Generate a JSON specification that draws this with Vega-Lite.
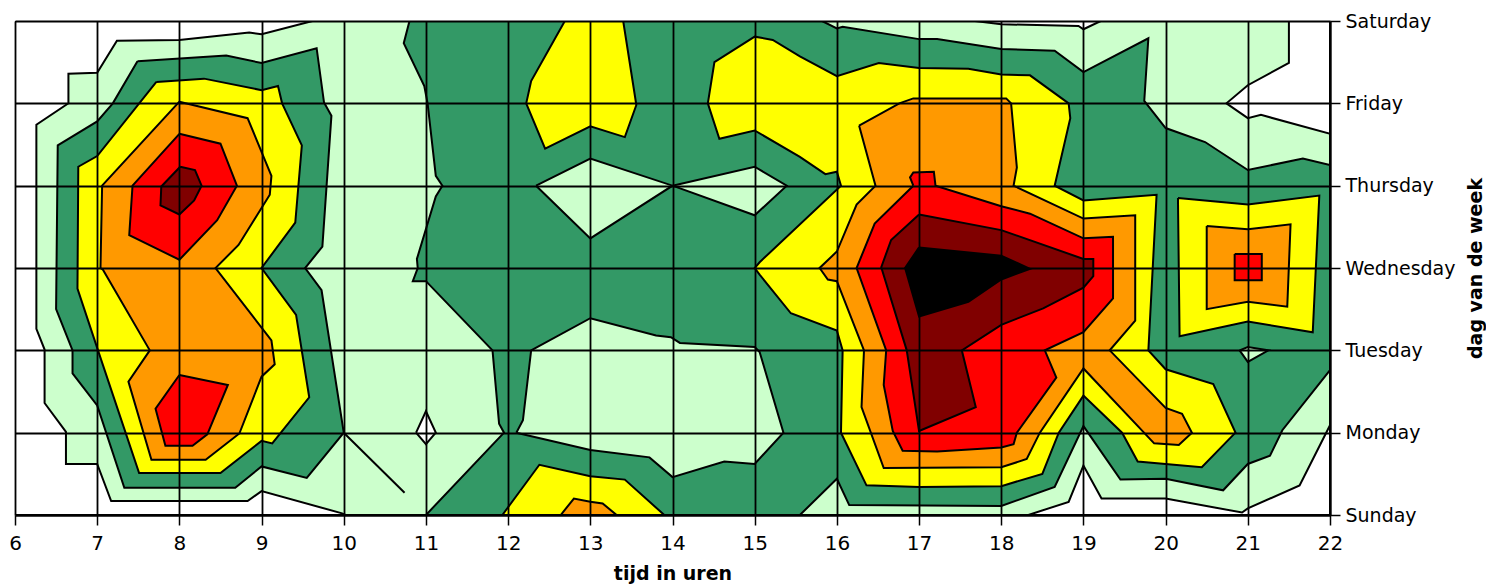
{
"$schema":"https://vega.github.io/schema/vega-lite/v6.json",
"width":1315,"height":494,
"autosize":{"type":"none"},
"padding":{"left":15,"top":21,"right":156,"bottom":70},
"background":"white",
"config":{"view":{"stroke":null}},
"data":{"values":[
{"poly":"B","stage":1,"k":0,"hour":6,"day":0},{"poly":"B","stage":1,"k":1,"hour":22,"day":0},{"poly":"B","stage":1,"k":2,"hour":22,"day":6},{"poly":"B","stage":1,"k":3,"hour":6,"day":6},{"poly":"B","stage":1,"k":4,"hour":6,"day":0},
{"poly":"W1","stage":2,"k":0,"hour":6,"day":6},{"poly":"W1","stage":2,"k":1,"hour":9.62,"day":6},{"poly":"W1","stage":2,"k":2,"hour":9.0,"day":5.84},{"poly":"W1","stage":2,"k":3,"hour":8.85,"day":5.86},{"poly":"W1","stage":2,"k":4,"hour":8.0,"day":5.77},{"poly":"W1","stage":2,"k":5,"hour":7.24,"day":5.76},{"poly":"W1","stage":2,"k":6,"hour":7.0,"day":5.37},{"poly":"W1","stage":2,"k":7,"hour":6.65,"day":5.36},{"poly":"W1","stage":2,"k":8,"hour":6.65,"day":5.0},{"poly":"W1","stage":2,"k":9,"hour":6.26,"day":4.74},{"poly":"W1","stage":2,"k":10,"hour":6.26,"day":2.26},{"poly":"W1","stage":2,"k":11,"hour":6.36,"day":2.01},{"poly":"W1","stage":2,"k":12,"hour":6.36,"day":1.36},{"poly":"W1","stage":2,"k":13,"hour":6.62,"day":1.01},{"poly":"W1","stage":2,"k":14,"hour":6.62,"day":0.62},{"poly":"W1","stage":2,"k":15,"hour":7.0,"day":0.62},{"poly":"W1","stage":2,"k":16,"hour":7.17,"day":0.17},{"poly":"W1","stage":2,"k":17,"hour":8.83,"day":0.17},{"poly":"W1","stage":2,"k":18,"hour":9.0,"day":0.29},{"poly":"W1","stage":2,"k":19,"hour":9.98,"day":0.02},{"poly":"W1","stage":2,"k":20,"hour":10.02,"day":0},{"poly":"W1","stage":2,"k":21,"hour":6,"day":0},{"poly":"W1","stage":2,"k":22,"hour":6,"day":6},
{"poly":"W2","stage":2,"k":0,"hour":18.33,"day":0},{"poly":"W2","stage":2,"k":1,"hour":18.82,"day":0.16},{"poly":"W2","stage":2,"k":2,"hour":19.0,"day":0.6},{"poly":"W2","stage":2,"k":3,"hour":19.22,"day":0.2},{"poly":"W2","stage":2,"k":4,"hour":20.0,"day":0.2},{"poly":"W2","stage":2,"k":5,"hour":20.93,"day":0.03},{"poly":"W2","stage":2,"k":6,"hour":21.0,"day":0.08},{"poly":"W2","stage":2,"k":7,"hour":21.63,"day":0.36},{"poly":"W2","stage":2,"k":8,"hour":22,"day":1.09},{"poly":"W2","stage":2,"k":9,"hour":22,"day":0},{"poly":"W2","stage":2,"k":10,"hour":18.33,"day":0},
{"poly":"W3","stage":2,"k":0,"hour":21.5,"day":6},{"poly":"W3","stage":2,"k":1,"hour":21.5,"day":5.49},{"poly":"W3","stage":2,"k":2,"hour":21.0,"day":5.22},{"poly":"W3","stage":2,"k":3,"hour":20.74,"day":5.0},{"poly":"W3","stage":2,"k":4,"hour":21.0,"day":4.82},{"poly":"W3","stage":2,"k":5,"hour":21.16,"day":4.86},{"poly":"W3","stage":2,"k":6,"hour":22,"day":4.63},{"poly":"W3","stage":2,"k":7,"hour":22,"day":6},{"poly":"W3","stage":2,"k":8,"hour":21.5,"day":6},
{"poly":"W4","stage":2,"k":0,"hour":17.68,"day":6},{"poly":"W4","stage":2,"k":1,"hour":18.0,"day":5.96},{"poly":"W4","stage":2,"k":2,"hour":18.94,"day":5.94},{"poly":"W4","stage":2,"k":3,"hour":19.0,"day":5.9},{"poly":"W4","stage":2,"k":4,"hour":19.21,"day":6},{"poly":"W4","stage":2,"k":5,"hour":17.68,"day":6},
{"poly":"W5","stage":2,"k":0,"hour":11.73,"day":6},{"poly":"W5","stage":2,"k":1,"hour":12.0,"day":5.95},{"poly":"W5","stage":2,"k":2,"hour":12.02,"day":6},{"poly":"W5","stage":2,"k":3,"hour":11.73,"day":6},
{"poly":"W6","stage":2,"k":0,"hour":10.88,"day":1},{"poly":"W6","stage":2,"k":1,"hour":11,"day":1.26},{"poly":"W6","stage":2,"k":2,"hour":11.12,"day":1},{"poly":"W6","stage":2,"k":3,"hour":11,"day":0.86},{"poly":"W6","stage":2,"k":4,"hour":10.88,"day":1},
{"poly":"W7","stage":2,"k":0,"hour":10,"day":1},{"poly":"W7","stage":2,"k":1,"hour":10.74,"day":0.27},{"poly":"W7","stage":2,"k":2,"hour":10,"day":1},
{"poly":"G1","stage":3,"k":0,"hour":7.49,"day":5.51},{"poly":"G1","stage":3,"k":1,"hour":8.57,"day":5.58},{"poly":"G1","stage":3,"k":2,"hour":9.0,"day":5.49},{"poly":"G1","stage":3,"k":3,"hour":9.67,"day":5.67},{"poly":"G1","stage":3,"k":4,"hour":9.76,"day":5.01},{"poly":"G1","stage":3,"k":5,"hour":9.85,"day":4.85},{"poly":"G1","stage":3,"k":6,"hour":9.74,"day":3.26},{"poly":"G1","stage":3,"k":7,"hour":9.53,"day":3.0},{"poly":"G1","stage":3,"k":8,"hour":9.73,"day":2.73},{"poly":"G1","stage":3,"k":9,"hour":10.0,"day":1.0},{"poly":"G1","stage":3,"k":10,"hour":9.55,"day":0.45},{"poly":"G1","stage":3,"k":11,"hour":9.0,"day":0.59},{"poly":"G1","stage":3,"k":12,"hour":8.68,"day":0.33},{"poly":"G1","stage":3,"k":13,"hour":7.33,"day":0.33},{"poly":"G1","stage":3,"k":14,"hour":7.0,"day":1.33},{"poly":"G1","stage":3,"k":15,"hour":6.7,"day":1.72},{"poly":"G1","stage":3,"k":16,"hour":6.7,"day":2.0},{"poly":"G1","stage":3,"k":17,"hour":6.5,"day":2.5},{"poly":"G1","stage":3,"k":18,"hour":6.52,"day":4.49},{"poly":"G1","stage":3,"k":19,"hour":7.0,"day":4.78},{"poly":"G1","stage":3,"k":20,"hour":7.19,"day":5.0},{"poly":"G1","stage":3,"k":21,"hour":7.49,"day":5.51},
{"poly":"G2","stage":3,"k":0,"hour":10.8,"day":6},{"poly":"G2","stage":3,"k":1,"hour":15.82,"day":6},{"poly":"G2","stage":3,"k":2,"hour":16.0,"day":5.91},{"poly":"G2","stage":3,"k":3,"hour":16.07,"day":5.93},{"poly":"G2","stage":3,"k":4,"hour":17.0,"day":5.78},{"poly":"G2","stage":3,"k":5,"hour":17.22,"day":5.78},{"poly":"G2","stage":3,"k":6,"hour":18.0,"day":5.66},{"poly":"G2","stage":3,"k":7,"hour":18.65,"day":5.64},{"poly":"G2","stage":3,"k":8,"hour":19.0,"day":5.38},{"poly":"G2","stage":3,"k":9,"hour":19.79,"day":5.79},{"poly":"G2","stage":3,"k":10,"hour":19.74,"day":5.03},{"poly":"G2","stage":3,"k":11,"hour":20.0,"day":4.7},{"poly":"G2","stage":3,"k":12,"hour":20.48,"day":4.53},{"poly":"G2","stage":3,"k":13,"hour":21.0,"day":4.19},{"poly":"G2","stage":3,"k":14,"hour":21.67,"day":4.33},{"poly":"G2","stage":3,"k":15,"hour":22,"day":4.25},{"poly":"G2","stage":3,"k":16,"hour":22,"day":1.76},{"poly":"G2","stage":3,"k":17,"hour":21.42,"day":1.03},{"poly":"G2","stage":3,"k":18,"hour":21.27,"day":0.72},{"poly":"G2","stage":3,"k":19,"hour":21.0,"day":0.62},{"poly":"G2","stage":3,"k":20,"hour":20.7,"day":0.3},{"poly":"G2","stage":3,"k":21,"hour":20.0,"day":0.44},{"poly":"G2","stage":3,"k":22,"hour":19.45,"day":0.43},{"poly":"G2","stage":3,"k":23,"hour":19.0,"day":1.08},{"poly":"G2","stage":3,"k":24,"hour":18.65,"day":0.34},{"poly":"G2","stage":3,"k":25,"hour":18.0,"day":0.11},{"poly":"G2","stage":3,"k":26,"hour":16.15,"day":0.12},{"poly":"G2","stage":3,"k":27,"hour":16.0,"day":0.44},{"poly":"G2","stage":3,"k":28,"hour":15.55,"day":0},{"poly":"G2","stage":3,"k":29,"hour":11.0,"day":0},{"poly":"G2","stage":3,"k":30,"hour":11.95,"day":1.0},{"poly":"G2","stage":3,"k":31,"hour":11.89,"day":1.11},{"poly":"G2","stage":3,"k":32,"hour":11.81,"day":2.0},{"poly":"G2","stage":3,"k":33,"hour":11.0,"day":2.84},{"poly":"G2","stage":3,"k":34,"hour":10.84,"day":2.84},{"poly":"G2","stage":3,"k":35,"hour":10.9,"day":3.0},{"poly":"G2","stage":3,"k":36,"hour":10.89,"day":3.11},{"poly":"G2","stage":3,"k":37,"hour":11.12,"day":3.87},{"poly":"G2","stage":3,"k":38,"hour":11.2,"day":4.0},{"poly":"G2","stage":3,"k":39,"hour":11.12,"day":4.12},{"poly":"G2","stage":3,"k":40,"hour":11.02,"day":5.0},{"poly":"G2","stage":3,"k":41,"hour":10.98,"day":5.21},{"poly":"G2","stage":3,"k":42,"hour":10.73,"day":5.73},{"poly":"G2","stage":3,"k":43,"hour":10.8,"day":6},
{"poly":"H1","stage":4,"k":0,"hour":12.1,"day":1},{"poly":"H1","stage":4,"k":1,"hour":12.18,"day":1.15},{"poly":"H1","stage":4,"k":2,"hour":12.28,"day":2},{"poly":"H1","stage":4,"k":3,"hour":13,"day":2.39},{"poly":"H1","stage":4,"k":4,"hour":13.8,"day":2.18},{"poly":"H1","stage":4,"k":5,"hour":13.98,"day":2.16},{"poly":"H1","stage":4,"k":6,"hour":14.09,"day":2.09},{"poly":"H1","stage":4,"k":7,"hour":15,"day":2.04},{"poly":"H1","stage":4,"k":8,"hour":15.06,"day":1.98},{"poly":"H1","stage":4,"k":9,"hour":15.35,"day":1},{"poly":"H1","stage":4,"k":10,"hour":15,"day":0.62},{"poly":"H1","stage":4,"k":11,"hour":14.63,"day":0.65},{"poly":"H1","stage":4,"k":12,"hour":14,"day":0.46},{"poly":"H1","stage":4,"k":13,"hour":13.72,"day":0.7},{"poly":"H1","stage":4,"k":14,"hour":13,"day":0.79},{"poly":"H1","stage":4,"k":15,"hour":12.1,"day":1},
{"poly":"H2","stage":4,"k":0,"hour":12.34,"day":4},{"poly":"H2","stage":4,"k":1,"hour":13,"day":4.33},{"poly":"H2","stage":4,"k":2,"hour":14,"day":4},{"poly":"H2","stage":4,"k":3,"hour":13,"day":3.36},{"poly":"H2","stage":4,"k":4,"hour":12.34,"day":4},
{"poly":"H3","stage":4,"k":0,"hour":14,"day":4},{"poly":"H3","stage":4,"k":1,"hour":15,"day":4.23},{"poly":"H3","stage":4,"k":2,"hour":15.39,"day":4},{"poly":"H3","stage":4,"k":3,"hour":15,"day":3.64},{"poly":"H3","stage":4,"k":4,"hour":14,"day":4},
{"poly":"H4","stage":4,"k":0,"hour":20.9,"day":2},{"poly":"H4","stage":4,"k":1,"hour":21,"day":2.04},{"poly":"H4","stage":4,"k":2,"hour":21.25,"day":2},{"poly":"H4","stage":4,"k":3,"hour":21,"day":1.86},{"poly":"H4","stage":4,"k":4,"hour":20.9,"day":2},
{"poly":"Y1","stage":5,"k":0,"hour":7.72,"day":5.26},{"poly":"Y1","stage":5,"k":1,"hour":8.3,"day":5.3},{"poly":"Y1","stage":5,"k":2,"hour":9.0,"day":5.16},{"poly":"Y1","stage":5,"k":3,"hour":9.2,"day":5.21},{"poly":"Y1","stage":5,"k":4,"hour":9.25,"day":5.0},{"poly":"Y1","stage":5,"k":5,"hour":9.49,"day":4.49},{"poly":"Y1","stage":5,"k":6,"hour":9.41,"day":3.55},{"poly":"Y1","stage":5,"k":7,"hour":9.0,"day":3.0},{"poly":"Y1","stage":5,"k":8,"hour":9.42,"day":2.43},{"poly":"Y1","stage":5,"k":9,"hour":9.58,"day":1.43},{"poly":"Y1","stage":5,"k":10,"hour":9.13,"day":0.87},{"poly":"Y1","stage":5,"k":11,"hour":9.0,"day":0.9},{"poly":"Y1","stage":5,"k":12,"hour":8.5,"day":0.51},{"poly":"Y1","stage":5,"k":13,"hour":7.51,"day":0.51},{"poly":"Y1","stage":5,"k":14,"hour":7.01,"day":2.0},{"poly":"Y1","stage":5,"k":15,"hour":6.76,"day":2.75},{"poly":"Y1","stage":5,"k":16,"hour":6.77,"day":4.23},{"poly":"Y1","stage":5,"k":17,"hour":7.0,"day":4.36},{"poly":"Y1","stage":5,"k":18,"hour":7.72,"day":5.26},
{"poly":"Y2","stage":5,"k":0,"hour":12.69,"day":6},{"poly":"Y2","stage":5,"k":1,"hour":12.28,"day":5.27},{"poly":"Y2","stage":5,"k":2,"hour":12.22,"day":5.0},{"poly":"Y2","stage":5,"k":3,"hour":12.45,"day":4.45},{"poly":"Y2","stage":5,"k":4,"hour":13.0,"day":4.72},{"poly":"Y2","stage":5,"k":5,"hour":13.42,"day":4.59},{"poly":"Y2","stage":5,"k":6,"hour":13.56,"day":4.98},{"poly":"Y2","stage":5,"k":7,"hour":13.4,"day":6},{"poly":"Y2","stage":5,"k":8,"hour":12.69,"day":6},
{"poly":"Y3","stage":5,"k":0,"hour":11.93,"day":0},{"poly":"Y3","stage":5,"k":1,"hour":12.38,"day":0.61},{"poly":"Y3","stage":5,"k":2,"hour":13.0,"day":0.47},{"poly":"Y3","stage":5,"k":3,"hour":13.42,"day":0.43},{"poly":"Y3","stage":5,"k":4,"hour":13.9,"day":0},{"poly":"Y3","stage":5,"k":5,"hour":11.93,"day":0},
{"poly":"Y4","stage":5,"k":0,"hour":14.43,"day":5.0},{"poly":"Y4","stage":5,"k":1,"hour":14.51,"day":5.5},{"poly":"Y4","stage":5,"k":2,"hour":15.0,"day":5.81},{"poly":"Y4","stage":5,"k":3,"hour":15.22,"day":5.77},{"poly":"Y4","stage":5,"k":4,"hour":15.55,"day":5.57},{"poly":"Y4","stage":5,"k":5,"hour":16.0,"day":5.33},{"poly":"Y4","stage":5,"k":6,"hour":16.51,"day":5.49},{"poly":"Y4","stage":5,"k":7,"hour":17.0,"day":5.43},{"poly":"Y4","stage":5,"k":8,"hour":17.6,"day":5.42},{"poly":"Y4","stage":5,"k":9,"hour":18.0,"day":5.35},{"poly":"Y4","stage":5,"k":10,"hour":18.35,"day":5.34},{"poly":"Y4","stage":5,"k":11,"hour":18.82,"day":5.0},{"poly":"Y4","stage":5,"k":12,"hour":18.84,"day":4.82},{"poly":"Y4","stage":5,"k":13,"hour":18.65,"day":4.0},{"poly":"Y4","stage":5,"k":14,"hour":19.0,"day":3.82},{"poly":"Y4","stage":5,"k":15,"hour":19.89,"day":3.89},{"poly":"Y4","stage":5,"k":16,"hour":19.79,"day":2.0},{"poly":"Y4","stage":5,"k":17,"hour":20.0,"day":1.77},{"poly":"Y4","stage":5,"k":18,"hour":20.58,"day":1.59},{"poly":"Y4","stage":5,"k":19,"hour":20.85,"day":1.0},{"poly":"Y4","stage":5,"k":20,"hour":20.44,"day":0.58},{"poly":"Y4","stage":5,"k":21,"hour":19.66,"day":0.65},{"poly":"Y4","stage":5,"k":22,"hour":19.47,"day":1.0},{"poly":"Y4","stage":5,"k":23,"hour":19.0,"day":1.45},{"poly":"Y4","stage":5,"k":24,"hour":18.7,"day":1.0},{"poly":"Y4","stage":5,"k":25,"hour":18.5,"day":0.5},{"poly":"Y4","stage":5,"k":26,"hour":18.0,"day":0.35},{"poly":"Y4","stage":5,"k":27,"hour":17.0,"day":0.34},{"poly":"Y4","stage":5,"k":28,"hour":16.36,"day":0.36},{"poly":"Y4","stage":5,"k":29,"hour":16.05,"day":1.0},{"poly":"Y4","stage":5,"k":30,"hour":16.07,"day":2.0},{"poly":"Y4","stage":5,"k":31,"hour":16.0,"day":2.24},{"poly":"Y4","stage":5,"k":32,"hour":15.44,"day":2.45},{"poly":"Y4","stage":5,"k":33,"hour":15.06,"day":2.92},{"poly":"Y4","stage":5,"k":34,"hour":15.0,"day":3.0},{"poly":"Y4","stage":5,"k":35,"hour":15.06,"day":3.07},{"poly":"Y4","stage":5,"k":36,"hour":16.05,"day":4.0},{"poly":"Y4","stage":5,"k":37,"hour":16.0,"day":4.17},{"poly":"Y4","stage":5,"k":38,"hour":15.86,"day":4.14},{"poly":"Y4","stage":5,"k":39,"hour":15.55,"day":4.35},{"poly":"Y4","stage":5,"k":40,"hour":15.0,"day":4.67},{"poly":"Y4","stage":5,"k":41,"hour":14.57,"day":4.57},{"poly":"Y4","stage":5,"k":42,"hour":14.43,"day":5.0},
{"poly":"Y5","stage":5,"k":0,"hour":20.15,"day":3.85},{"poly":"Y5","stage":5,"k":1,"hour":21,"day":3.77},{"poly":"Y5","stage":5,"k":2,"hour":21.87,"day":3.88},{"poly":"Y5","stage":5,"k":3,"hour":21.79,"day":2.22},{"poly":"Y5","stage":5,"k":4,"hour":21,"day":2.35},{"poly":"Y5","stage":5,"k":5,"hour":20.17,"day":2.17},{"poly":"Y5","stage":5,"k":6,"hour":20.15,"day":3.85},
{"poly":"O1","stage":6,"k":0,"hour":8.0,"day":5.02},{"poly":"O1","stage":6,"k":1,"hour":8.83,"day":4.82},{"poly":"O1","stage":6,"k":2,"hour":9.12,"day":4.12},{"poly":"O1","stage":6,"k":3,"hour":9.1,"day":3.89},{"poly":"O1","stage":6,"k":4,"hour":8.72,"day":3.28},{"poly":"O1","stage":6,"k":5,"hour":8.44,"day":3.0},{"poly":"O1","stage":6,"k":6,"hour":9.12,"day":2.12},{"poly":"O1","stage":6,"k":7,"hour":9.16,"day":1.83},{"poly":"O1","stage":6,"k":8,"hour":9.0,"day":1.68},{"poly":"O1","stage":6,"k":9,"hour":8.73,"day":0.99},{"poly":"O1","stage":6,"k":10,"hour":8.32,"day":0.67},{"poly":"O1","stage":6,"k":11,"hour":7.66,"day":0.67},{"poly":"O1","stage":6,"k":12,"hour":7.38,"day":1.62},{"poly":"O1","stage":6,"k":13,"hour":7.64,"day":2.0},{"poly":"O1","stage":6,"k":14,"hour":7.07,"day":2.98},{"poly":"O1","stage":6,"k":15,"hour":7.04,"day":3.0},{"poly":"O1","stage":6,"k":16,"hour":7.06,"day":4.0},{"poly":"O1","stage":6,"k":17,"hour":8.0,"day":5.02},
{"poly":"O2","stage":6,"k":0,"hour":12.64,"day":0},{"poly":"O2","stage":6,"k":1,"hour":12.8,"day":0.2},{"poly":"O2","stage":6,"k":2,"hour":13.0,"day":0.16},{"poly":"O2","stage":6,"k":3,"hour":13.15,"day":0.14},{"poly":"O2","stage":6,"k":4,"hour":13.32,"day":0},{"poly":"O2","stage":6,"k":5,"hour":12.64,"day":0},
{"poly":"O3","stage":6,"k":0,"hour":16.27,"day":4.73},{"poly":"O3","stage":6,"k":1,"hour":16.76,"day":5.0},{"poly":"O3","stage":6,"k":2,"hour":16.93,"day":5.06},{"poly":"O3","stage":6,"k":3,"hour":18.06,"day":5.06},{"poly":"O3","stage":6,"k":4,"hour":18.12,"day":5.0},{"poly":"O3","stage":6,"k":5,"hour":18.19,"day":4.22},{"poly":"O3","stage":6,"k":6,"hour":18.15,"day":4.0},{"poly":"O3","stage":6,"k":7,"hour":19.0,"day":3.6},{"poly":"O3","stage":6,"k":8,"hour":19.63,"day":3.64},{"poly":"O3","stage":6,"k":9,"hour":19.63,"day":2.36},{"poly":"O3","stage":6,"k":10,"hour":19.32,"day":2.0},{"poly":"O3","stage":6,"k":11,"hour":20.0,"day":1.3},{"poly":"O3","stage":6,"k":12,"hour":20.2,"day":1.23},{"poly":"O3","stage":6,"k":13,"hour":20.32,"day":1.0},{"poly":"O3","stage":6,"k":14,"hour":20.16,"day":0.85},{"poly":"O3","stage":6,"k":15,"hour":19.86,"day":0.87},{"poly":"O3","stage":6,"k":16,"hour":19.0,"day":1.78},{"poly":"O3","stage":6,"k":17,"hour":18.47,"day":1.0},{"poly":"O3","stage":6,"k":18,"hour":18.31,"day":0.68},{"poly":"O3","stage":6,"k":19,"hour":18.0,"day":0.58},{"poly":"O3","stage":6,"k":20,"hour":16.57,"day":0.57},{"poly":"O3","stage":6,"k":21,"hour":16.3,"day":1.31},{"poly":"O3","stage":6,"k":22,"hour":16.33,"day":2.0},{"poly":"O3","stage":6,"k":23,"hour":16.0,"day":2.84},{"poly":"O3","stage":6,"k":24,"hour":15.89,"day":2.86},{"poly":"O3","stage":6,"k":25,"hour":15.79,"day":3.0},{"poly":"O3","stage":6,"k":26,"hour":16.0,"day":3.2},{"poly":"O3","stage":6,"k":27,"hour":16.24,"day":3.77},{"poly":"O3","stage":6,"k":28,"hour":16.47,"day":4.0},{"poly":"O3","stage":6,"k":29,"hour":16.27,"day":4.73},
{"poly":"O4","stage":6,"k":0,"hour":20.5,"day":3.51},{"poly":"O4","stage":6,"k":1,"hour":21,"day":3.47},{"poly":"O4","stage":6,"k":2,"hour":21.52,"day":3.53},{"poly":"O4","stage":6,"k":3,"hour":21.48,"day":2.53},{"poly":"O4","stage":6,"k":4,"hour":21,"day":2.59},{"poly":"O4","stage":6,"k":5,"hour":20.5,"day":2.5},{"poly":"O4","stage":6,"k":6,"hour":20.5,"day":3.51},
{"poly":"R1","stage":7,"k":0,"hour":8.0,"day":4.63},{"poly":"R1","stage":7,"k":1,"hour":8.5,"day":4.51},{"poly":"R1","stage":7,"k":2,"hour":8.7,"day":4.0},{"poly":"R1","stage":7,"k":3,"hour":8.46,"day":3.58},{"poly":"R1","stage":7,"k":4,"hour":8.0,"day":3.1},{"poly":"R1","stage":7,"k":5,"hour":7.39,"day":3.4},{"poly":"R1","stage":7,"k":6,"hour":7.43,"day":4.0},{"poly":"R1","stage":7,"k":7,"hour":8.0,"day":4.63},
{"poly":"R2","stage":7,"k":0,"hour":8.0,"day":1.7},{"poly":"R2","stage":7,"k":1,"hour":8.59,"day":1.58},{"poly":"R2","stage":7,"k":2,"hour":8.34,"day":0.98},{"poly":"R2","stage":7,"k":3,"hour":8.16,"day":0.84},{"poly":"R2","stage":7,"k":4,"hour":7.83,"day":0.84},{"poly":"R2","stage":7,"k":5,"hour":7.71,"day":1.29},{"poly":"R2","stage":7,"k":6,"hour":8.0,"day":1.7},
{"poly":"R3","stage":7,"k":0,"hour":16.93,"day":4.0},{"poly":"R3","stage":7,"k":1,"hour":16.89,"day":4.1},{"poly":"R3","stage":7,"k":2,"hour":16.93,"day":4.16},{"poly":"R3","stage":7,"k":3,"hour":17.18,"day":4.17},{"poly":"R3","stage":7,"k":4,"hour":17.2,"day":4.0},{"poly":"R3","stage":7,"k":5,"hour":18.0,"day":3.75},{"poly":"R3","stage":7,"k":6,"hour":18.35,"day":3.66},{"poly":"R3","stage":7,"k":7,"hour":19.0,"day":3.36},{"poly":"R3","stage":7,"k":8,"hour":19.36,"day":3.38},{"poly":"R3","stage":7,"k":9,"hour":19.36,"day":2.63},{"poly":"R3","stage":7,"k":10,"hour":19.0,"day":2.22},{"poly":"R3","stage":7,"k":11,"hour":18.53,"day":2.0},{"poly":"R3","stage":7,"k":12,"hour":18.67,"day":1.67},{"poly":"R3","stage":7,"k":13,"hour":18.19,"day":1.0},{"poly":"R3","stage":7,"k":14,"hour":18.15,"day":0.86},{"poly":"R3","stage":7,"k":15,"hour":18.0,"day":0.82},{"poly":"R3","stage":7,"k":16,"hour":17.22,"day":0.77},{"poly":"R3","stage":7,"k":17,"hour":16.8,"day":0.78},{"poly":"R3","stage":7,"k":18,"hour":16.68,"day":1.02},{"poly":"R3","stage":7,"k":19,"hour":16.57,"day":1.58},{"poly":"R3","stage":7,"k":20,"hour":16.6,"day":2.0},{"poly":"R3","stage":7,"k":21,"hour":16.24,"day":3.0},{"poly":"R3","stage":7,"k":22,"hour":16.46,"day":3.54},{"poly":"R3","stage":7,"k":23,"hour":16.93,"day":4.0},
{"poly":"R4","stage":7,"k":0,"hour":20.84,"day":3.17},{"poly":"R4","stage":7,"k":1,"hour":21.17,"day":3.17},{"poly":"R4","stage":7,"k":2,"hour":21.17,"day":2.85},{"poly":"R4","stage":7,"k":3,"hour":20.84,"day":2.85},{"poly":"R4","stage":7,"k":4,"hour":20.84,"day":3.17},
{"poly":"D1","stage":8,"k":0,"hour":8.01,"day":4.23},{"poly":"D1","stage":8,"k":1,"hour":8.19,"day":4.19},{"poly":"D1","stage":8,"k":2,"hour":8.27,"day":4.0},{"poly":"D1","stage":8,"k":3,"hour":8.18,"day":3.82},{"poly":"D1","stage":8,"k":4,"hour":8.0,"day":3.65},{"poly":"D1","stage":8,"k":5,"hour":7.77,"day":3.76},{"poly":"D1","stage":8,"k":6,"hour":7.78,"day":3.99},{"poly":"D1","stage":8,"k":7,"hour":8.01,"day":4.23},
{"poly":"D2","stage":8,"k":0,"hour":17.0,"day":3.65},{"poly":"D2","stage":8,"k":1,"hour":18.0,"day":3.46},{"poly":"D2","stage":8,"k":2,"hour":19.0,"day":3.11},{"poly":"D2","stage":8,"k":3,"hour":19.12,"day":3.11},{"poly":"D2","stage":8,"k":4,"hour":19.12,"day":2.9},{"poly":"D2","stage":8,"k":5,"hour":19.0,"day":2.76},{"poly":"D2","stage":8,"k":6,"hour":18.51,"day":2.51},{"poly":"D2","stage":8,"k":7,"hour":18.0,"day":2.31},{"poly":"D2","stage":8,"k":8,"hour":17.52,"day":2.0},{"poly":"D2","stage":8,"k":9,"hour":17.69,"day":1.31},{"poly":"D2","stage":8,"k":10,"hour":17.0,"day":1.02},{"poly":"D2","stage":8,"k":11,"hour":16.85,"day":2.0},{"poly":"D2","stage":8,"k":12,"hour":16.54,"day":3.01},{"poly":"D2","stage":8,"k":13,"hour":16.66,"day":3.34},{"poly":"D2","stage":8,"k":14,"hour":17.0,"day":3.65},
{"poly":"K1","stage":9,"k":0,"hour":17.0,"day":3.25},{"poly":"K1","stage":9,"k":1,"hour":16.83,"day":3.0},{"poly":"K1","stage":9,"k":2,"hour":17.0,"day":2.41},{"poly":"K1","stage":9,"k":3,"hour":17.6,"day":2.59},{"poly":"K1","stage":9,"k":4,"hour":18.0,"day":2.86},{"poly":"K1","stage":9,"k":5,"hour":18.35,"day":2.99},{"poly":"K1","stage":9,"k":6,"hour":18.0,"day":3.15},{"poly":"K1","stage":9,"k":7,"hour":17.0,"day":3.25}
]},
"encoding":{
"x":{"field":"hour","type":"quantitative","scale":{"domain":[6,22],"nice":false,"zero":false},
 "axis":{"values":[6,7,8,9,10,11,12,13,14,15,16,17,18,19,20,21,22],"format":"d","grid":true,"gridColor":"#000","gridWidth":1.8,"gridOpacity":1,"domain":true,"domainColor":"#000","domainWidth":2,"tickColor":"#000","tickSize":10,"tickWidth":1.5,"labelFont":"DejaVu Sans","labelFontSize":20,"labelColor":"#000","labelPadding":8,"labelFlush":false,"labelOverlap":false,"title":"tijd in uren","titleFont":"DejaVu Sans","titleFontSize":19,"titleFontWeight":"bold","titleColor":"#000","titlePadding":11,"zindex":1}},
"y":{"field":"day","type":"quantitative","scale":{"domain":[0,6],"nice":false,"zero":false},
 "axis":{"orient":"right","values":[0,1,2,3,4,5,6],"labelExpr":"['Sunday','Monday','Tuesday','Wednesday','Thursday','Friday','Saturday'][datum.value]","grid":true,"gridColor":"#000","gridWidth":1.8,"gridOpacity":1,"domain":true,"domainColor":"#000","domainWidth":2,"tickColor":"#000","tickSize":10,"tickWidth":1.5,"labelFont":"DejaVu Sans","labelFontSize":19,"labelColor":"#000","labelPadding":5,"labelFlush":false,"labelOverlap":false,"title":"dag van de week","titleAngle":270,"titleFont":"DejaVu Sans","titleFontSize":19,"titleFontWeight":"bold","titleColor":"#000","titlePadding":30,"zindex":1}},
"detail":{"field":"poly","type":"nominal"},
"order":{"field":"k","type":"quantitative"}
},
"layer":[
{"transform":[{"filter":{"field":"stage","equal":1}}],"mark":{"type":"line","fill":"#CCFFCC","stroke":"#000","strokeWidth":2,"clip":true}},
{"transform":[{"filter":{"field":"stage","equal":2}}],"mark":{"type":"line","fill":"#FFFFFF","stroke":"#000","strokeWidth":2,"clip":true}},
{"transform":[{"filter":{"field":"stage","equal":3}}],"mark":{"type":"line","fill":"#339966","stroke":"#000","strokeWidth":2,"clip":true}},
{"transform":[{"filter":{"field":"stage","equal":4}}],"mark":{"type":"line","fill":"#CCFFCC","stroke":"#000","strokeWidth":2,"clip":true}},
{"transform":[{"filter":{"field":"stage","equal":5}}],"mark":{"type":"line","fill":"#FFFF00","stroke":"#000","strokeWidth":2,"clip":true}},
{"transform":[{"filter":{"field":"stage","equal":6}}],"mark":{"type":"line","fill":"#FF9900","stroke":"#000","strokeWidth":2,"clip":true}},
{"transform":[{"filter":{"field":"stage","equal":7}}],"mark":{"type":"line","fill":"#FF0000","stroke":"#000","strokeWidth":2,"clip":true}},
{"transform":[{"filter":{"field":"stage","equal":8}}],"mark":{"type":"line","fill":"#800000","stroke":"#000","strokeWidth":2,"clip":true}},
{"transform":[{"filter":{"field":"stage","equal":9}}],"mark":{"type":"line","fill":"#000000","stroke":"#000","strokeWidth":2,"clip":true}}
]
}
